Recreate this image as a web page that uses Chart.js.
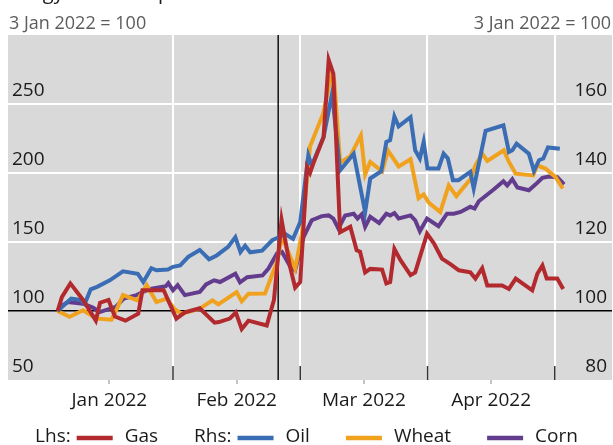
<!DOCTYPE html>
<html>
<head>
<meta charset="utf-8">
<script src="https://cdn.jsdelivr.net/npm/chart.js@4"></script>
<style>
  html, body { margin: 0; padding: 0; background: #fff; }
  #wrap { width: 613px; height: 445px; }
</style>
</head>
<body>
<div id="wrap"><canvas id="prices" width="613" height="445"></canvas></div>
<script>
// x values are days counted from 3 Jan 2022 (= 100 for every series)
const gasDays = [0, 1, 3, 6, 9, 10, 12, 13.5, 16, 19, 20, 25, 28, 30, 33.5, 37, 38, 40.6, 42, 43.4, 45, 49.3, 51, 52.8, 54.8, 56, 57.2, 58.8, 59.5, 60.3, 62.7, 63.9, 65, 66.6, 69, 70.5, 71.3, 72.5, 73.7, 76.5, 77.5, 78.4, 79.4, 80.8, 83.2, 84.3, 87.1, 88.7, 90.6, 92.6, 94.6, 97.3, 98.5, 100.1, 101.3, 104.8, 106.4, 108, 111.9, 113.1, 114.3, 115.3, 117.8, 119.2];
const gasValues = [100, 110, 120, 108, 93, 106, 108, 96, 93, 98, 115, 115, 94.5, 99, 102, 91.5, 92, 94.5, 99, 87, 93, 89.5, 108, 166, 132, 117, 121, 204, 200, 207, 226, 282, 272, 157, 161, 144, 143, 128, 130.5, 130, 120, 121, 145, 137, 126, 128, 156, 149, 138, 134, 129.5, 128, 123.5, 131, 118.5, 118.5, 116, 123.5, 115, 127, 133, 123.5, 123.5, 116];

const oilDays = [0, 3.2, 5.4, 6.4, 7.8, 9.3, 12.3, 15.4, 18.9, 20.2, 22.1, 23.3, 26, 27.2, 28.9, 30.8, 33.5, 35.7, 37.5, 40.2, 41.9, 43.1, 44.2, 45.4, 48.2, 50.6, 52, 53.6, 55.5, 57.2, 59.1, 59.9, 62.7, 64.7, 66.6, 69.8, 72.5, 73.7, 76.3, 77.5, 78.4, 79.4, 80.4, 83.2, 84.3, 85.4, 86.3, 87.2, 89.8, 91, 92, 93.2, 94.5, 97.3, 98.1, 100.9, 105.1, 106.4, 107.2, 108.2, 111.1, 112.3, 113.5, 114.5, 115.6, 118.4];
const oilValues = [100, 103.6, 103.2, 102.1, 106.3, 107, 108.9, 111.5, 110.8, 108.4, 112.4, 111.8, 112, 112.8, 113.2, 115.7, 117.7, 115, 116.1, 118.6, 121.4, 117.1, 118.9, 117, 117.5, 120.5, 121.3, 122.4, 120.9, 125.8, 145.1, 142.2, 150.4, 163, 140.8, 145.6, 128.7, 138.4, 140.5, 149, 149.5, 156.4, 153.5, 156.2, 146.6, 144.2, 149, 141.3, 141.3, 145.6, 144.2, 137.9, 137.9, 140.3, 135.5, 152.2, 153.8, 146.1, 146.6, 148.5, 145.6, 140.6, 143.7, 144.2, 147.4, 147];

const wheatDays = [0, 2.8, 6, 9.1, 12.7, 13.9, 15.4, 18.8, 21, 23.3, 25.7, 27.6, 29.2, 33.5, 36.5, 37.9, 42.2, 43.4, 45, 48.9, 51.7, 52.9, 56, 57.6, 59.5, 62.6, 64.7, 65.2, 66.6, 69, 71.5, 72.5, 73.7, 76.5, 77.9, 80.4, 83.2, 85.1, 86.3, 87.5, 90.2, 92.2, 94, 97.3, 98.5, 100.1, 101.3, 105.2, 106.4, 108, 112.1, 113.1, 115, 117.4, 119.1];
const wheatValues = [100, 98.3, 100.2, 97.8, 97.5, 100.4, 104.6, 103.1, 107.5, 102.6, 103.6, 100.5, 99.2, 100.7, 103.1, 101.9, 105.5, 102.8, 105, 105.1, 114.2, 121.5, 112.3, 122.5, 147.7, 157.2, 169.2, 166.9, 143, 144.9, 150.9, 139.6, 143.2, 140.5, 146.5, 141.9, 144, 132.7, 133.8, 131.4, 128.7, 136.4, 133.3, 138.2, 142.2, 145.6, 143.5, 146.6, 143.2, 139.8, 139.3, 142.2, 141.3, 138.8, 135.5];

const cornDays = [0, 1, 2.4, 6, 8.3, 9.9, 13.7, 15.6, 18.6, 21.5, 25.5, 26.1, 27.2, 28.3, 30, 33.5, 35, 36.9, 38.3, 41.9, 43, 44.7, 48.3, 49.7, 51.7, 52.9, 54.8, 56, 58, 59.9, 62.3, 63.9, 65, 66.2, 67.8, 69.8, 70.7, 71.7, 72.5, 73.7, 75.8, 77.5, 78.4, 79.4, 80.4, 83.2, 84.3, 85.4, 87.1, 89.8, 91.8, 93.4, 95, 97.3, 98.3, 99.3, 102.8, 105.1, 106, 107.2, 108.4, 111.1, 112.7, 114.3, 115.8, 117.8, 119.4];
const cornValues = [100, 101.5, 102.6, 102.1, 101, 99.7, 101.2, 103.6, 104.6, 106.3, 107.2, 108.1, 106, 107.5, 104.6, 105.5, 107.7, 108.9, 108.4, 110.8, 108.3, 109.8, 110.3, 112.3, 116.6, 117.1, 113, 111.8, 121.5, 126.3, 127.5, 127.7, 126.8, 123.9, 127.7, 128.2, 126.8, 128, 124.4, 127.3, 125.5, 128.2, 127.7, 128.4, 126.8, 127.7, 126.3, 123.1, 126.8, 124.6, 128.2, 128.2, 128.7, 130.2, 129.7, 131.8, 135.2, 137.6, 136.4, 138.2, 135.8, 135, 136.7, 138.6, 139, 138.8, 136.7];

const gridDays = [27.2, 57.2, 87.2, 117.2];
const monthDays = [12.2, 42.2, 72.2, 102.2];
const monthLabels = ['Jan 2022', 'Feb 2022', 'Mar 2022', 'Apr 2022'];
const invasionDay = 52;
const lhsTicks = [50, 100, 150, 200, 250, 300];
const rhsTicks = [80, 100, 120, 140, 160, 180];

const FONT = "'Open Sans', sans-serif";
const colors = { gas: '#b2292e', oil: '#3a6db3', wheat: '#f0a21e', corn: '#633c8e' };

function pts(days, values) {
  return days.map((d, i) => ({ x: d, y: values[i] }));
}

const decor = {
  id: 'decor',
  beforeDraw(chart) {
    const { ctx, chartArea: a } = chart;
    ctx.save();
    ctx.fillStyle = '#d9d9d9';
    ctx.fillRect(a.left, a.top, a.right - a.left, a.bottom - a.top);
    ctx.restore();
  },
  beforeDatasetsDraw(chart) {
    const { ctx, chartArea: a, scales } = chart;
    ctx.save();
    ctx.strokeStyle = '#111';
    ctx.lineWidth = 1.5;
    const xi = scales.x.getPixelForValue(invasionDay);
    ctx.beginPath();
    ctx.moveTo(xi, a.top);
    ctx.lineTo(xi, a.bottom);
    ctx.stroke();
    ctx.strokeStyle = '#333';
    gridDays.forEach(d => {
      const x = scales.x.getPixelForValue(d);
      ctx.beginPath();
      ctx.moveTo(x, a.bottom - 14);
      ctx.lineTo(x, a.bottom);
      ctx.stroke();
    });
    ctx.restore();
  },
  afterDraw(chart) {
    const { ctx } = chart;
    ctx.save();
    // title, only its lower edge is visible in the crop
    ctx.fillStyle = '#1a1a1a';
    ctx.font = '20px ' + FONT;
    ctx.textBaseline = 'alphabetic';
    ctx.textAlign = 'left';
    ctx.fillText('Energy and food prices', 0, -1);

    ctx.fillStyle = '#5c5c5c';
    ctx.font = '18px ' + FONT;
    ctx.fillText('3 Jan 2022 = 100', 9, 29);
    ctx.textAlign = 'right';
    ctx.fillText('3 Jan 2022 = 100', 611, 29);

    // legend
    const items = [
      { prefix: 'Lhs:', label: 'Gas', color: colors.gas },
      { prefix: 'Rhs:', label: 'Oil', color: colors.oil },
      { prefix: '', label: 'Wheat', color: colors.wheat },
      { prefix: '', label: 'Corn', color: colors.corn },
    ];
    ctx.font = '19px ' + FONT;
    ctx.textAlign = 'left';
    ctx.textBaseline = 'middle';
    const lineLen = 36, gapLine = 12, gapPrefix = 6, gapItem = 36;
    const widths = items.map(it => (it.prefix ? ctx.measureText(it.prefix).width + gapPrefix : 0) + lineLen + gapLine + ctx.measureText(it.label).width);
    const total = widths.reduce((s, w) => s + w, 0) + gapItem * (items.length - 1);
    let x = (613 - total) / 2;
    const y = 437;
    items.forEach(it => {
      ctx.fillStyle = '#1a1a1a';
      if (it.prefix) {
        ctx.fillText(it.prefix, x, y);
        x += ctx.measureText(it.prefix).width + gapPrefix;
      }
      ctx.strokeStyle = it.color;
      ctx.lineWidth = 4.5;
      ctx.beginPath();
      ctx.moveTo(x, y + 1);
      ctx.lineTo(x + lineLen, y + 1);
      ctx.stroke();
      x += lineLen + gapLine;
      ctx.fillStyle = '#1a1a1a';
      ctx.fillText(it.label, x, y);
      x += ctx.measureText(it.label).width + gapItem;
    });
    ctx.restore();
  }
};

function lineSet(label, days, values, color, axis) {
  return {
    label: label,
    data: pts(days, values),
    yAxisID: axis,
    borderColor: color,
    backgroundColor: color,
    borderWidth: 4,
    pointRadius: 0,
    tension: 0,
    fill: false,
  };
}

new Chart(document.getElementById('prices'), {
  type: 'line',
  data: {
    datasets: [
      lineSet('Gas', gasDays, gasValues, colors.gas, 'y'),
      lineSet('Oil', oilDays, oilValues, colors.oil, 'y1'),
      lineSet('Wheat', wheatDays, wheatValues, colors.wheat, 'y1'),
      lineSet('Corn', cornDays, cornValues, colors.corn, 'y1'),
    ],
  },
  options: {
    responsive: false,
    animation: false,
    devicePixelRatio: 1,
    layout: { padding: { left: 8, right: 1, top: 35, bottom: 0 } },
    plugins: {
      legend: { display: false },
      tooltip: { enabled: false },
    },
    scales: {
      x: {
        type: 'linear',
        min: -11.7,
        max: 130.7,
        afterBuildTicks: s => { s.ticks = gridDays.concat(monthDays).sort((a, b) => a - b).map(v => ({ value: v })); },
        afterFit: s => { s.height = 65; },
        border: { display: false },
        grid: {
          color: c => gridDays.includes(c.tick.value) ? '#ffffff' : 'rgba(0,0,0,0)',
          tickColor: c => gridDays.includes(c.tick.value) ? 'rgba(0,0,0,0)' : '#c4c4c4',
          lineWidth: 2,
          tickLength: 4,
        },
        ticks: {
          autoSkip: false,
          maxRotation: 0,
          padding: 5,
          color: '#1a1a1a',
          font: { family: FONT, size: 19 },
          callback: v => {
            const i = monthDays.indexOf(v);
            return i >= 0 ? monthLabels[i] : '';
          },
        },
      },
      y: {
        position: 'left',
        min: 50,
        max: 300,
        afterBuildTicks: s => { s.ticks = lhsTicks.map(v => ({ value: v })); },
        afterFit: s => { s.width = 0; },
        border: { display: false },
        grid: {
          color: c => c.tick.value === 100 ? '#000000' : (c.tick.value === 50 || c.tick.value === 300 ? 'rgba(0,0,0,0)' : '#ffffff'),
          lineWidth: c => c.tick.value === 100 ? 1.5 : 2,
          drawTicks: false,
        },
        ticks: {
          mirror: true,
          padding: 4,
          labelOffset: -13,
          color: '#1a1a1a',
          font: { family: FONT, size: 19 },
          callback: v => v === 300 ? '' : v,
        },
      },
      y1: {
        position: 'right',
        min: 80,
        max: 180,
        afterBuildTicks: s => { s.ticks = rhsTicks.map(v => ({ value: v })); },
        afterFit: s => { s.width = 0; },
        border: { display: false },
        grid: { display: false, drawOnChartArea: false, drawTicks: false },
        ticks: {
          mirror: true,
          padding: -5,
          labelOffset: -13,
          color: '#1a1a1a',
          font: { family: FONT, size: 19 },
          callback: v => v === 180 ? '' : v,
        },
      },
    },
  },
  plugins: [decor],
});
</script>
</body>
</html>
